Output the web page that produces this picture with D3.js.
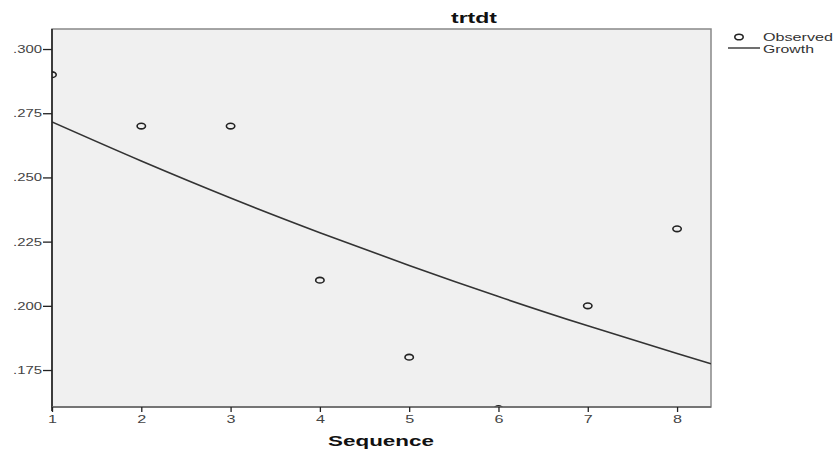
<!DOCTYPE html>
<html>
<head>
<meta charset="utf-8">
<script src="https://cdn.jsdelivr.net/npm/d3@7"></script>
<style>
  body { margin: 0; background: #fff; }
  svg text { font-family: "Liberation Sans", Arial, sans-serif; }
</style>
</head>
<body>
<div id="chart"></div>
<script>
// data
const sequence = [1, 2, 3, 4, 5, 6, 7, 8];
const observed = [0.29, 0.27, 0.27, 0.21, 0.18, 0.16, 0.20, 0.23];
const growthSeq = [1, 2, 3, 4, 5, 6, 7, 8, 8.38];
const growthVal = [0.2716, 0.2564, 0.2420, 0.2285, 0.2157, 0.2036, 0.1922, 0.1814, 0.1774];
const yTicks = [0.175, 0.200, 0.225, 0.250, 0.275, 0.300];
const xTicks = [1, 2, 3, 4, 5, 6, 7, 8];

const width = 835, height = 451;
const plot = { left: 52, right: 711, top: 29, bottom: 407 };

const svg = d3.select('#chart').append('svg')
  .attr('width', width)
  .attr('height', height);

const x = d3.scaleLinear().domain([1, 8.38]).range([plot.left, plot.right]);
const y = d3.scaleLinear().domain([0.1606, 0.3078]).range([plot.bottom, plot.top]);

// plot background
svg.append('rect')
  .attr('x', plot.left).attr('y', plot.top)
  .attr('width', plot.right - plot.left)
  .attr('height', plot.bottom - plot.top)
  .attr('fill', '#f0f0f0')
  .attr('stroke', '#888')
  .attr('stroke-width', 1.5);

svg.append('clipPath').attr('id', 'clip')
  .append('rect')
  .attr('x', plot.left).attr('y', plot.top)
  .attr('width', plot.right - plot.left)
  .attr('height', plot.bottom - plot.top);

const inner = svg.append('g').attr('clip-path', 'url(#clip)');

// growth curve
const line = d3.line()
  .x((d, i) => x(growthSeq[i]))
  .y((d) => y(d))
  .curve(d3.curveMonotoneX);

inner.append('path')
  .datum(growthVal)
  .attr('d', line)
  .attr('fill', 'none')
  .attr('stroke', '#333')
  .attr('stroke-width', 1.6);

// observed points
inner.selectAll('.obs')
  .data(observed)
  .join('ellipse')
  .attr('class', 'obs')
  .attr('cx', (d, i) => x(sequence[i]))
  .attr('cy', (d) => y(d))
  .attr('rx', 4.2)
  .attr('ry', 2.8)
  .attr('fill', 'none')
  .attr('stroke', '#222')
  .attr('stroke-width', 1.6);

// axes
const yAxis = d3.axisLeft(y).tickValues(yTicks).tickSize(9)
  .tickFormat((d) => d3.format('.3f')(d).replace(/^0/, ''));
const gy = svg.append('g').attr('transform', `translate(${plot.left},0)`).call(yAxis);
gy.select('.domain').attr('stroke', '#222').attr('stroke-width', 1.6)
  .attr('d', `M0,${plot.top}V${plot.bottom + 4}`);
gy.selectAll('.tick line').attr('stroke', '#222').attr('stroke-width', 1.3);
gy.selectAll('.tick text')
  .attr('x', -10)
  .attr('fill', '#444')
  .style('font-size', '11px')
  .attr('textLength', 29)
  .attr('lengthAdjust', 'spacingAndGlyphs');

const xAxis = d3.axisBottom(x).tickValues(xTicks).tickSize(5).tickFormat(d3.format('d'));
const gx = svg.append('g').attr('transform', `translate(0,${plot.bottom})`).call(xAxis);
gx.select('.domain').attr('stroke', '#666').attr('stroke-width', 1.3)
  .attr('d', `M${plot.left},0H${plot.right}`);
gx.selectAll('.tick line').attr('stroke', '#222').attr('stroke-width', 1.3);
gx.selectAll('.tick text')
  .attr('y', 8)
  .attr('fill', '#444')
  .style('font-size', '11px')
  .attr('textLength', 9)
  .attr('lengthAdjust', 'spacingAndGlyphs');

// title and axis label
svg.append('text')
  .attr('x', 474).attr('y', 23)
  .attr('text-anchor', 'middle')
  .style('font-size', '14px').style('font-weight', 'bold')
  .attr('fill', '#111')
  .attr('textLength', 46).attr('lengthAdjust', 'spacingAndGlyphs')
  .text('trtdt');

svg.append('text')
  .attr('x', 381).attr('y', 446)
  .attr('text-anchor', 'middle')
  .style('font-size', '15px').style('font-weight', 'bold')
  .attr('fill', '#111')
  .attr('textLength', 106).attr('lengthAdjust', 'spacingAndGlyphs')
  .text('Sequence');

// legend
const legend = svg.append('g');
legend.append('ellipse')
  .attr('cx', 739).attr('cy', 37)
  .attr('rx', 4.2).attr('ry', 2.8)
  .attr('fill', 'none').attr('stroke', '#222').attr('stroke-width', 1.6);
legend.append('line')
  .attr('x1', 728).attr('x2', 760)
  .attr('y1', 48).attr('y2', 48)
  .attr('stroke', '#333').attr('stroke-width', 1.4);
legend.append('text')
  .attr('x', 763).attr('y', 41)
  .style('font-size', '11px').attr('fill', '#333')
  .attr('textLength', 70).attr('lengthAdjust', 'spacingAndGlyphs')
  .text('Observed');
legend.append('text')
  .attr('x', 763).attr('y', 53)
  .style('font-size', '11px').attr('fill', '#333')
  .attr('textLength', 51).attr('lengthAdjust', 'spacingAndGlyphs')
  .text('Growth');
</script>
</body>
</html>
